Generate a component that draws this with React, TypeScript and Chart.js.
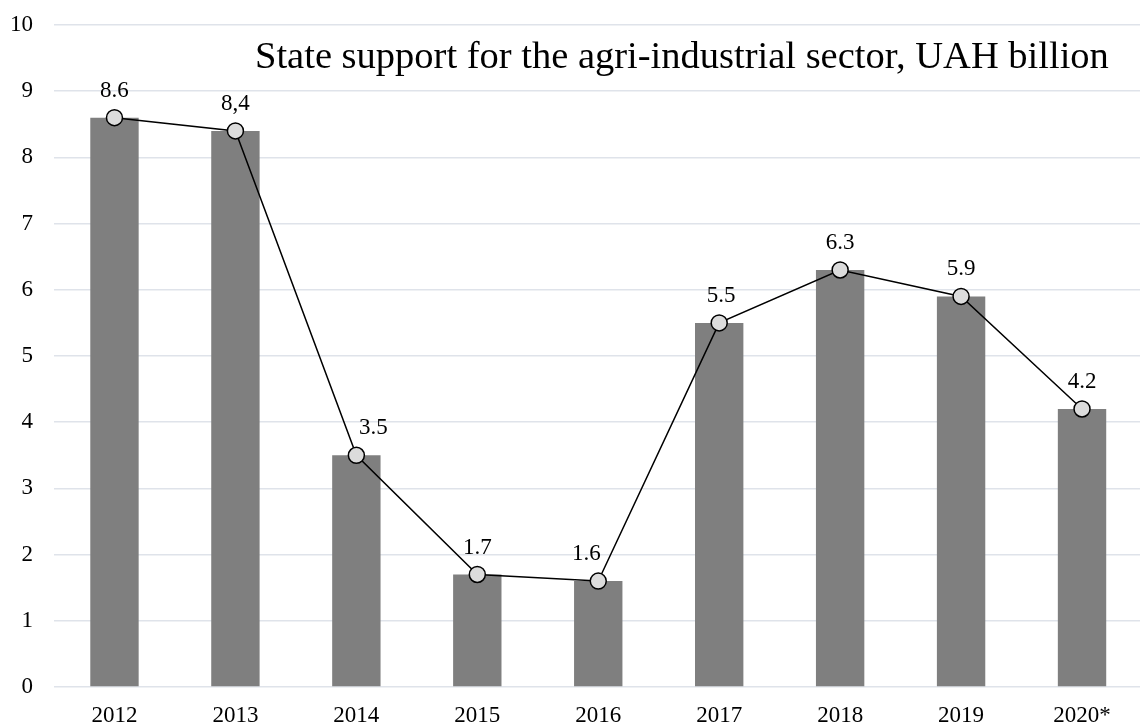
import React, { useEffect, useRef } from "react";
import { Chart, registerables } from "chart.js";

Chart.register(...registerables);

const categories = ["2012", "2013", "2014", "2015", "2016", "2017", "2018", "2019", "2020*"];
const values = [8.6, 8.4, 3.5, 1.7, 1.6, 5.5, 6.3, 5.9, 4.2];
const valueLabels = ["8.6", "8,4", "3.5", "1.7", "1.6", "5.5", "6.3", "5.9", "4.2"];
const labelShiftX = [0, 0, 17, 0, -12, 2, 0, 0, 0];
const titleText = "State support for the agri-industrial sector, UAH billion";

const FONT = "'Liberation Serif', 'Times New Roman', serif";

export default function App() {
  const ref = useRef<HTMLCanvasElement | null>(null);
  useEffect(() => {
    document.body.style.margin = "0";
    document.body.style.overflow = "hidden";
    const canvas = ref.current!;
    const labelPlugin = {
      id: "labels",
      afterDatasetsDraw(chart: any) {
        const ctx = chart.ctx;
        const meta = chart.getDatasetMeta(1);
        ctx.save();
        ctx.fillStyle = "#000";
        ctx.font = `23px ${FONT}`;
        ctx.textAlign = "center";
        ctx.textBaseline = "middle";
        meta.data.forEach((pt: any, i: number) => {
          ctx.fillText(valueLabels[i], pt.x + labelShiftX[i], pt.y - 27);
        });
        ctx.font = `38.5px ${FONT}`;
        ctx.textAlign = "left";
        ctx.fillText(titleText, 255, 58);
        ctx.restore();
      },
    };
    const chart = new Chart(canvas, {
      type: "bar",
      data: {
        labels: categories,
        datasets: [
          {
            type: "bar",
            data: values,
            backgroundColor: "#7f7f7f",
            barPercentage: 0.4,
            categoryPercentage: 1,
            order: 2,
          },
          {
            type: "line",
            data: values,
            borderColor: "#000",
            borderWidth: 1.5,
            pointRadius: 8,
            pointBackgroundColor: "#dcdcdc",
            pointBorderColor: "#000",
            pointBorderWidth: 1.5,
            tension: 0,
            order: 1,
          },
        ],
      },
      options: {
        responsive: false,
        animation: false,
        layout: { padding: { top: 25, right: 1, left: 0, bottom: 0 } },
        plugins: { legend: { display: false }, tooltip: { enabled: false } },
        scales: {
          x: {
            grid: { display: false },
            border: { display: false },
            ticks: { color: "#000", font: { family: FONT, size: 23 }, padding: 7 },
            afterFit: (s: any) => { s.height = 38; s.paddingLeft = 0; s.paddingRight = 0; },
          },
          y: {
            min: 0,
            max: 10,
            grid: { color: "#dfe3ea", lineWidth: 1.5, drawTicks: false },
            border: { display: false },
            ticks: { stepSize: 1, color: "#000", font: { family: FONT, size: 23 }, padding: 21 },
            afterFit: (s: any) => { s.width = 54; s.paddingTop = 0; s.paddingBottom = 0; },
          },
        },
      },
      plugins: [labelPlugin],
    });
    return () => chart.destroy();
  }, []);
  return (
    <canvas
      ref={ref}
      width={1152}
      height={725}
      style={{ position: "absolute", left: 0, top: 0, width: 1152, height: 725 }}
    />
  );
}
